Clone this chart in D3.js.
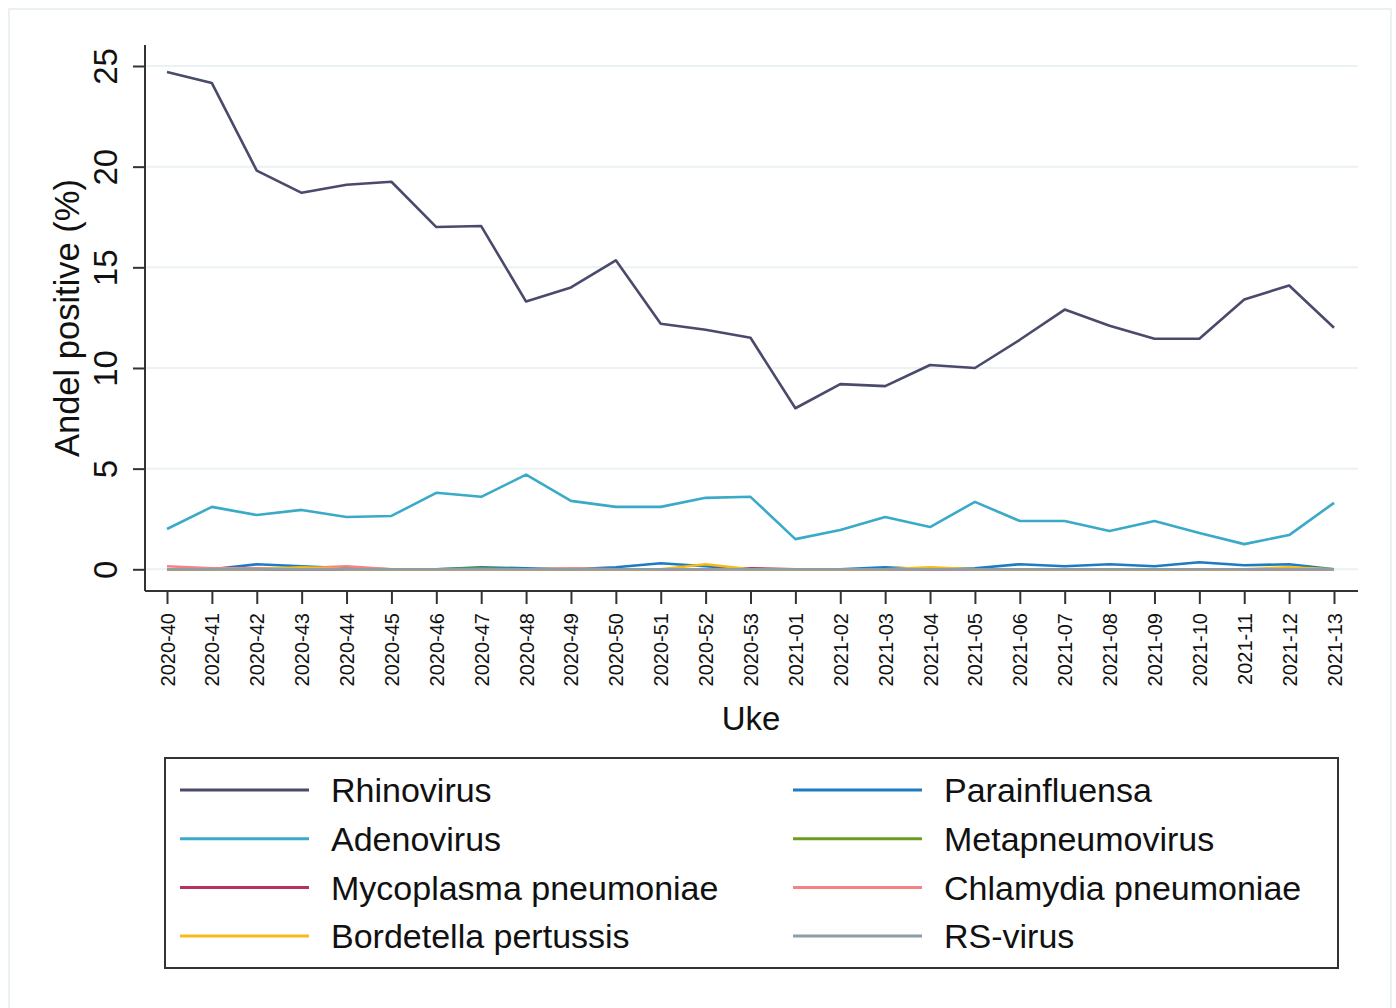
<!DOCTYPE html>
<html>
<head>
<meta charset="utf-8">
<script src="https://cdn.jsdelivr.net/npm/d3@7"></script>
<style>
  html, body { margin: 0; padding: 0; background: #ffffff; }
  svg { display: block; font-family: "Liberation Sans", Arial, sans-serif; }
</style>
</head>
<body>
<svg id="chart" width="1396" height="1008"></svg>
<script>
const weeks = ["2020-40","2020-41","2020-42","2020-43","2020-44","2020-45","2020-46","2020-47","2020-48","2020-49","2020-50","2020-51","2020-52","2020-53",
  "2021-01","2021-02","2021-03","2021-04","2021-05","2021-06","2021-07","2021-08","2021-09","2021-10","2021-11","2021-12","2021-13"];

const rhinovirus      = [24.7,24.15,19.8,18.7,19.1,19.25,17.0,17.05,13.3,14.0,15.35,12.2,11.9,11.5,8.0,9.2,9.1,10.15,10.0,11.4,12.9,12.1,11.45,11.45,13.4,14.1,12.0];
const adenovirus      = [2.0,3.1,2.7,2.95,2.6,2.65,3.8,3.6,4.7,3.4,3.1,3.1,3.55,3.6,1.5,1.95,2.6,2.1,3.35,2.4,2.4,1.9,2.4,1.8,1.25,1.7,3.3];
const parainfluensa   = [0,0,0.25,0.15,0.05,0,0,0.1,0.05,0,0.1,0.3,0.15,0,0,0,0.1,0,0.05,0.25,0.15,0.25,0.15,0.35,0.2,0.25,0];
const metapneumovirus = [0,0,0,0,0,0,0,0.05,0,0,0,0,0,0,0,0,0,0,0,0,0,0,0,0,0,0,0];
const mycoplasma      = [0,0,0,0,0,0,0,0,0,0,0,0,0,0.05,0,0,0,0,0,0,0,0,0,0,0,0,0];
const chlamydia       = [0.15,0.05,0.05,0.05,0.15,0,0,0,0,0.05,0,0,0,0,0,0,0,0,0,0,0,0,0,0,0,0,0];
const bordetella      = [0,0,0,0.1,0,0,0,0,0,0,0,0,0.25,0,0,0,0,0.1,0,0,0,0,0,0,0,0.1,0];
const rsvirus         = [0,0,0,0,0,0,0,0,0,0,0,0,0,0,0,0,0,0,0,0,0,0,0,0,0,0,0];
const yTicks = [0,5,10,15,20,25];

const seriesNames  = ["Rhinovirus","Parainfluensa","Adenovirus","Metapneumovirus","Mycoplasma pneumoniae","Chlamydia pneumoniae","Bordetella pertussis","RS-virus"];
const seriesData   = [rhinovirus, parainfluensa, adenovirus, metapneumovirus, mycoplasma, chlamydia, bordetella, rsvirus];
const seriesColors = ["#4a4a6c","#1f7bc1","#3aaac8","#6b9e1e","#b5335e","#f58383","#f6bb17","#8f9ea6"];

const svg = d3.select("#chart");

// outer frame
svg.append("rect").attr("x", 9).attr("y", 9).attr("width", 1382).attr("height", 1010)
  .attr("fill", "#ffffff").attr("stroke", "#eaf1f3").attr("stroke-width", 2);

const left = 145, right = 1358, bottom = 591;
const x = d3.scalePoint().domain(weeks).range([167, 1334]);
const y = d3.scaleLinear().domain([0, 25]).range([569.3, 66]);

// gridlines
svg.append("g").selectAll("line").data(yTicks).join("line")
  .attr("x1", left).attr("x2", right)
  .attr("y1", d => y(d)).attr("y2", d => y(d))
  .attr("stroke", "#eaf2f3").attr("stroke-width", 2);

// y axis
const yAxis = svg.append("g").attr("transform", `translate(${left},0)`)
  .call(d3.axisLeft(y).tickValues(yTicks).tickSize(12).tickPadding(8).tickFormat(d3.format("d")));
yAxis.select(".domain").attr("d", `M0,45V${bottom}`).attr("stroke", "#333").attr("stroke-width", 2);
yAxis.selectAll(".tick line").attr("stroke", "#333").attr("stroke-width", 2);
yAxis.selectAll(".tick text")
  .attr("font-size", 33).attr("fill", "#111")
  .attr("x", null)
  .attr("text-anchor", "middle")
  .attr("transform", "translate(-28,0) rotate(-90)")
  .attr("y", 0).attr("dy", "0");

// x axis
const xAxis = svg.append("g").attr("transform", `translate(0,${bottom})`)
  .call(d3.axisBottom(x).tickSize(13).tickPadding(8));
xAxis.select(".domain").attr("d", `M${left},0H${right}`).attr("stroke", "#333").attr("stroke-width", 2);
xAxis.selectAll(".tick line").attr("stroke", "#333").attr("stroke-width", 2);
xAxis.selectAll(".tick text")
  .attr("font-size", 20).attr("fill", "#111")
  .attr("text-anchor", "end")
  .attr("y", 0).attr("dy", "0.35em")
  .attr("transform", "translate(0,22) rotate(-90)");

// axis titles
svg.append("text").attr("transform", "translate(79,318) rotate(-90)")
  .attr("text-anchor", "middle").attr("font-size", 34.5).attr("fill", "#111")
  .text("Andel positive (%)");
svg.append("text").attr("x", 751).attr("y", 730)
  .attr("text-anchor", "middle").attr("font-size", 33).attr("fill", "#111")
  .text("Uke");

// lines
const line = d3.line().x((d, i) => x(weeks[i])).y(d => y(d));
svg.append("g").selectAll("path").data(seriesData).join("path")
  .attr("d", d => line(d))
  .attr("fill", "none")
  .attr("stroke", (d, i) => seriesColors[i])
  .attr("stroke-width", 2.6)
  .attr("stroke-linejoin", "round");

// legend
svg.append("rect").attr("x", 165).attr("y", 758).attr("width", 1173).attr("height", 210)
  .attr("fill", "#fff").attr("stroke", "#333").attr("stroke-width", 2);
const lg = svg.append("g").selectAll("g").data(seriesNames).join("g")
  .attr("transform", (d, i) => `translate(${i % 2 === 0 ? 180 : 793},${790 + Math.floor(i / 2) * 48.7})`);
lg.append("line").attr("x1", 0).attr("x2", 129).attr("y1", 0).attr("y2", 0)
  .attr("stroke", (d, i) => seriesColors[i]).attr("stroke-width", 3);
lg.append("text").attr("x", 151).attr("y", 0).attr("dy", "0.36em")
  .attr("font-size", 34).attr("fill", "#111").text(d => d);
</script>
</body>
</html>
